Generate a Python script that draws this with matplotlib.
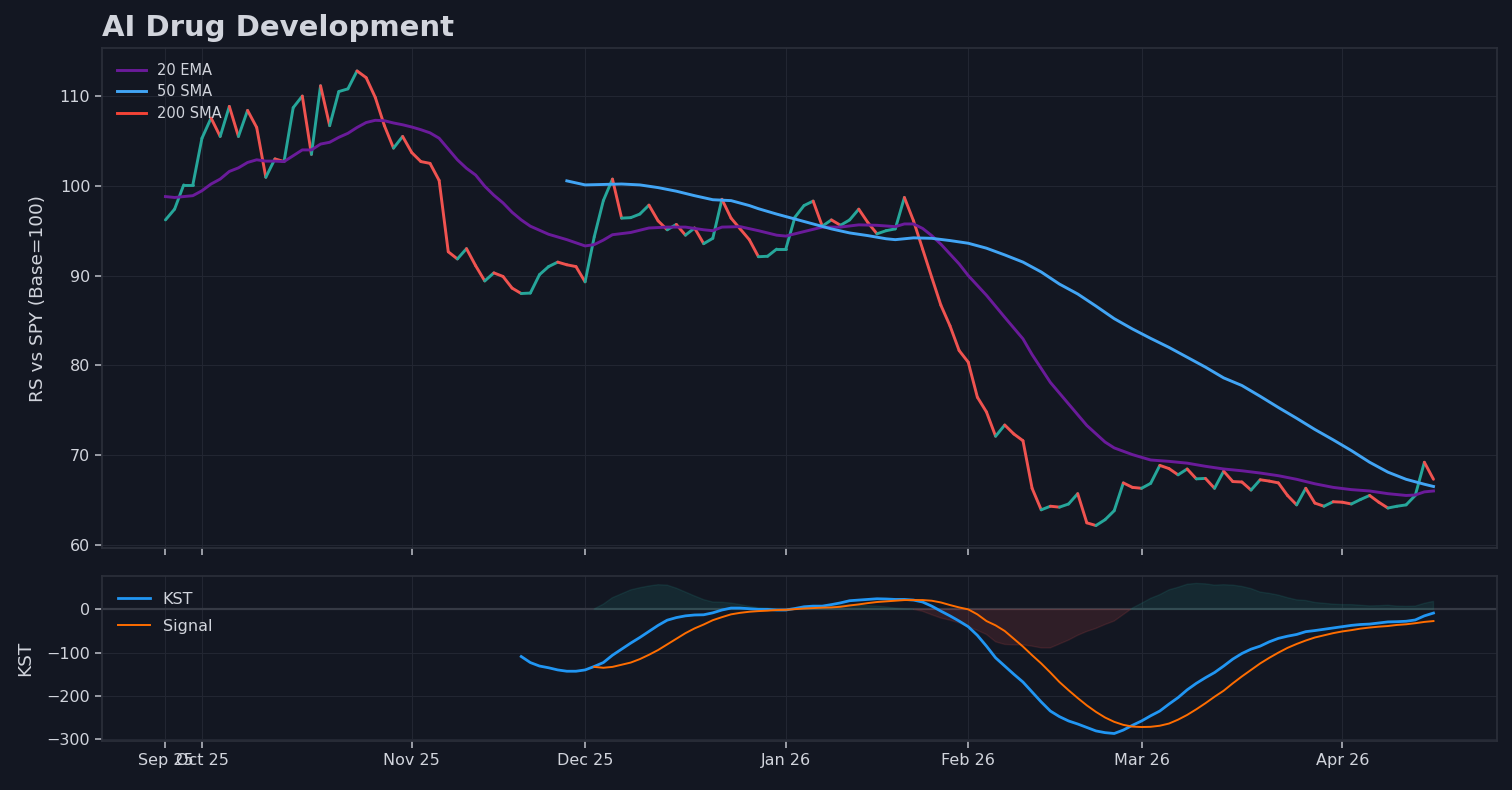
import numpy as np
import pandas as pd
import matplotlib
matplotlib.use("Agg")
import matplotlib.pyplot as plt
from matplotlib.collections import LineCollection

# ---- data ----
start_date = "2025-09-25"
holidays = ["2025-11-27", "2025-12-25", "2026-01-01", "2026-01-19",
            "2026-02-16", "2026-04-03"]

# relative strength vs SPY, one value per trading day
rs_price = [
    96.2, 97.4, 100.1, 100.1, 105.3, 107.55, 105.5, 108.85, 105.5, 108.4,
    106.5, 100.95, 103.0, 102.7, 108.7, 110.0, 103.5, 111.15, 106.7, 110.5,
    110.8, 112.8, 112.05, 109.85, 106.7, 104.2, 105.5, 103.7, 102.7, 102.5,
    100.6, 92.65, 91.85, 93.0, 91.1, 89.4, 90.3, 89.9, 88.6, 88.0,
    88.05, 90.1, 91.0, 91.5, 91.2, 91.0, 89.3, 94.3, 98.35, 100.75,
    96.4, 96.45, 96.85, 97.85, 96.1, 95.1, 95.7, 94.5, 95.3, 93.55,
    94.15, 98.5, 96.4, 95.2, 94.0, 92.1, 92.15, 92.95, 92.95, 96.5,
    97.8, 98.3, 95.5, 96.2, 95.6, 96.2, 97.4, 95.9, 94.65, 95.0,
    95.2, 98.7, 96.1, 92.95, 89.8, 86.7, 84.4, 81.65, 80.35, 76.45,
    74.8, 72.1, 73.35, 72.35, 71.6, 66.3, 63.9, 64.3, 64.2, 64.55,
    65.7, 62.45, 62.15, 62.8, 63.8, 66.9, 66.4, 66.3, 66.85, 68.85,
    68.5, 67.8, 68.45, 67.35, 67.4, 66.3, 68.2, 67.05, 67.0, 66.1,
    67.25, 67.1, 66.9, 65.5, 64.45, 66.3, 64.65, 64.3, 64.8, 64.75,
    64.55, 65.05, 65.5, 64.75, 64.1, 64.3, 64.45, 65.5, 69.2, 67.3,
]

# 20 EMA, sampled at these day indices
ema_idx = [0, 1, 2, 3, 4, 5, 6, 7, 8, 9, 10, 11, 12, 13, 14, 15, 16, 17, 18, 19,
           20, 21, 22, 23, 24, 25, 26, 27, 28, 29, 30, 31, 32, 33, 34, 35, 36, 37,
           38, 39, 40, 42, 44, 46, 47, 48, 49, 51, 53, 55, 57, 59, 60, 61, 63, 65,
           67, 68, 70, 72, 74, 76, 78, 80, 81, 82, 83, 84, 85, 86, 87, 88, 90, 92,
           94, 95, 97, 99, 101, 103, 104, 106, 108, 110, 112, 114, 116, 118, 120,
           122, 124, 126, 128, 130, 132, 134, 136, 137, 138, 139]
ema_val = [98.8, 98.7, 98.8, 98.9, 99.45, 100.2, 100.75, 101.6, 102.0, 102.6,
           102.9, 102.75, 102.75, 102.7, 103.35, 104.0, 104.0, 104.65, 104.85, 105.4,
           105.85, 106.5, 107.05, 107.3, 107.25, 107.0, 106.8, 106.55, 106.25, 105.9,
           105.3, 104.1, 102.9, 101.95, 101.2, 99.95, 98.95, 98.1, 97.05, 96.2,
           95.5, 94.6, 94.0, 93.3, 93.45, 93.95, 94.55, 94.8, 95.3, 95.4,
           95.4, 95.1, 95.0, 95.4, 95.45, 95.0, 94.5, 94.4, 94.9, 95.4,
           95.4, 95.65, 95.6, 95.45, 95.75, 95.75, 95.25, 94.45, 93.5, 92.4,
           91.3, 90.0, 87.8, 85.35, 82.95, 81.2, 78.1, 75.7, 73.3, 71.45,
           70.8, 70.05, 69.45, 69.3, 69.1, 68.75, 68.45, 68.25, 68.0, 67.7,
           67.3, 66.8, 66.4, 66.15, 66.0, 65.7, 65.5, 65.55, 65.9, 66.0]

# 50 SMA, sampled at these day indices
sma50_idx = [44, 46, 48, 50, 52, 54, 56, 58, 60, 62, 64, 65, 67, 69, 71, 73, 75,
             77, 79, 80, 82, 84, 86, 88, 90, 92, 94, 96, 98, 100, 102, 104, 106,
             108, 110, 112, 114, 116, 118, 120, 122, 124, 126, 128, 130, 132, 134,
             136, 138, 139]
sma50_val = [100.55, 100.1, 100.15, 100.2, 100.1, 99.8, 99.4, 98.9, 98.45, 98.35,
             97.8, 97.45, 96.85, 96.3, 95.75, 95.2, 94.75, 94.45, 94.1, 94.0,
             94.2, 94.15, 93.9, 93.6, 93.05, 92.3, 91.5, 90.4, 89.05, 87.95,
             86.6, 85.2, 84.05, 83.0, 82.0, 80.9, 79.8, 78.6, 77.75, 76.55,
             75.3, 74.1, 72.85, 71.7, 70.5, 69.2, 68.1, 67.3, 66.75, 66.5]

# KST starts at day 39, its signal at day 47
kst_start = 39
kst = [
    -109, -123, -131, -135, -140, -143, -143, -140, -132, -123,
    -106, -92, -78, -65, -51, -37, -25, -19, -15, -13,
    -12.5, -8, -1.5, 3, 3, 1.5, 0, 0, -1.5, -1.5,
    2, 6, 7.5, 7.5, 11, 15, 20, 21.5, 23, 24.5,
    24, 23, 23, 21.5, 17, 7.5, -4, -15, -27, -40,
    -60, -85, -112, -131, -150, -168, -191, -214, -235, -248,
    -258, -265, -273, -281, -285, -287, -279, -268, -258, -246,
    -235, -219, -204, -186, -171, -158, -146, -131, -115, -102,
    -92, -85, -75, -67, -62, -58, -51.5, -49, -46, -43,
    -40, -37, -35, -34, -31.5, -29, -28.5, -27.5, -24.5, -15,
    -8.5,
]
sig_start = 47
kst_signal = [
    -133, -135, -133, -128, -123, -115, -105, -94, -81, -68,
    -55, -44, -35, -25, -18, -11.5, -8, -5.5, -4, -3,
    -1.5, -1, 0.5, 2, 3, 4, 4.5, 6, 9, 11.5,
    14.5, 17, 18.5, 20, 21.5, 21.5, 21.5, 20, 16, 10,
    4.5, 0, -11.5, -27, -37, -50, -68, -86, -106, -125,
    -146, -168, -187, -205, -222, -237, -250, -260, -267, -271,
    -272, -271.5, -269, -264, -255, -244, -231, -217, -202, -188,
    -171, -155, -140, -125, -112, -100, -89, -80, -72, -65,
    -60, -55, -51, -48, -44.5, -42, -40, -38.5, -36, -34.5,
    -32, -29, -27,
]

# ---- style ----
BG = "#131722"
GRID = "#222632"
SPINE = "#2a2e39"
TEXT = "#d1d4dc"
UP = "#26a69a"
DOWN = "#ef5350"
EMA_C = "#6a1b9a"
SMA50_C = "#42a5f5"
SMA200_C = "#f44336"
KST_C = "#2196f3"
SIG_C = "#ff6d00"

n = len(rs_price)
dates = pd.bdate_range(start=start_date, periods=n, freq="C", holidays=holidays)
x = np.arange(n)
price = np.asarray(rs_price)

# tick at the first bar and at the first trading day of every month
tick_pos = [0] + [i for i in range(1, n) if dates[i].month != dates[i - 1].month]
tick_lab = [dates[i].strftime("%b %y") for i in tick_pos]

fig = plt.figure(figsize=(15.12, 7.9), dpi=100, facecolor=BG)
ax1 = fig.add_axes([0.0675, 0.306, 0.9225, 0.633])
ax2 = fig.add_axes([0.0675, 0.062, 0.9225, 0.209], sharex=ax1)

for ax in (ax1, ax2):
    ax.set_facecolor(BG)
    ax.grid(True, color=GRID, linewidth=0.8)
    ax.set_axisbelow(True)
    for sp in ax.spines.values():
        sp.set_color(SPINE)
        sp.set_linewidth(1.3)
    ax.tick_params(colors="#b2b5be", labelcolor=TEXT, labelsize=11.5,
                   length=5, width=1.2)

# price line, coloured by direction of each step
pts = np.column_stack([x, price])
segs = np.stack([pts[:-1], pts[1:]], axis=1)
seg_colors = np.where(np.diff(price) >= 0, UP, DOWN)
lc = LineCollection(segs, colors=seg_colors, linewidths=2.1, capstyle="round")
ax1.add_collection(lc)

ax1.plot(ema_idx, ema_val, color=EMA_C, lw=2.1, label="20 EMA")
ax1.plot(sma50_idx, sma50_val, color=SMA50_C, lw=2.1, label="50 SMA")
ax1.plot([], [], color=SMA200_C, lw=2.1, label="200 SMA")
ax1.autoscale_view()
ax1.set_yticks([60, 70, 80, 90, 100, 110])
ax1.set_ylabel("RS vs SPY (Base=100)", color=TEXT, fontsize=13.3, labelpad=9)
ax1.tick_params(labelbottom=False)
ax1.set_title("AI Drug Development", loc="left", color=TEXT, fontsize=21,
              fontweight="bold", pad=9)
ax1.legend(loc="upper left", frameon=False, fontsize=10.5, labelcolor=TEXT,
           borderaxespad=0.6, handletextpad=0.8, labelspacing=0.45)

# KST panel
kst_x = np.arange(kst_start, kst_start + len(kst))
sig_x = np.arange(sig_start, sig_start + len(kst_signal))
kst_arr = np.asarray(kst, dtype=float)
sig_arr = np.asarray(kst_signal, dtype=float)
hist = kst_arr[sig_start - kst_start:] - sig_arr

ax2.axhline(0, color="#363a45", lw=1.6, zorder=1)
ax2.fill_between(sig_x, 0, hist, where=hist >= 0, color=UP, alpha=0.13,
                 interpolate=True, lw=1)
ax2.fill_between(sig_x, 0, hist, where=hist < 0, color=DOWN, alpha=0.13,
                 interpolate=True, lw=1)
ax2.plot(kst_x, kst_arr, color=KST_C, lw=2.0, label="KST")
ax2.plot(sig_x, sig_arr, color=SIG_C, lw=1.4, label="Signal")
ax2.set_yticks([0, -100, -200, -300])
ax2.set_ylabel("KST", color=TEXT, fontsize=13.3, labelpad=9)
ax2.legend(loc="upper left", frameon=False, fontsize=11.5, labelcolor=TEXT,
           borderaxespad=0.6, handletextpad=0.8, labelspacing=0.75)

ax2.set_xticks(tick_pos)
ax2.set_xticklabels(tick_lab)

fig.savefig("out.png", dpi=100, facecolor=BG)
